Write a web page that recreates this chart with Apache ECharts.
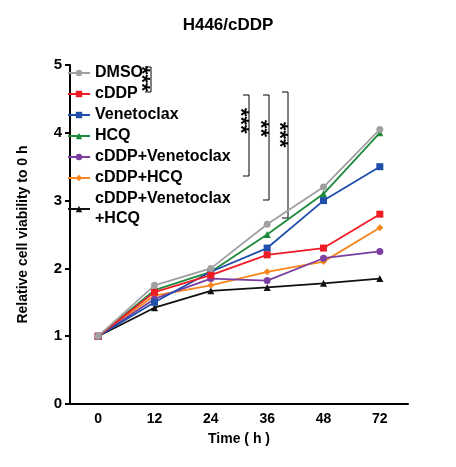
<!DOCTYPE html><html><head><meta charset="utf-8"><script src="https://cdn.jsdelivr.net/npm/echarts@6/dist/echarts.min.js"></script></head><body style="margin:0"><div id="c" style="width:456px;height:467px"></div><script>
const categories=['0','12','24','36','48','72'];
const names=['DMSO','cDDP','Venetoclax','HCQ','cDDP+Venetoclax','cDDP+HCQ','cDDP+Venetoclax\n+HCQ'];
const colors=['#a0a0a0','#ee1c25','#1f4eab','#1d8a3c','#7a3fa0','#f7861c','#111111'];
const symbols=['circle','rect','rect','triangle','circle','diamond','triangle'];
const DMSO=[1,1.75,2.0,2.65,3.2,4.05];
const cDDP=[1,1.65,1.9,2.2,2.3,2.8];
const Venetoclax=[1,1.5,1.95,2.3,3.0,3.5];
const HCQ=[1,1.68,1.95,2.5,3.1,4.0];
const cDDP_Ven=[1,1.55,1.85,1.82,2.15,2.25];
const cDDP_HCQ=[1,1.6,1.75,1.95,2.1,2.6];
const cDDP_Ven_HCQ=[1,1.42,1.67,1.72,1.78,1.85];
const data=[DMSO,cDDP,Venetoclax,HCQ,cDDP_Ven,cDDP_HCQ,cDDP_Ven_HCQ];
const F='Arial, Liberation Sans, sans-serif';
const brackets=[[[145,67],[151,67],[151,92],[145,92]],[[243,95],[249,95],[249,176],[243,176]],[[263,95],[269,95],[269,200],[263,200]],[[282,92],[288,92],[288,218],[282,218]]];
const txt=[[152,66,'***'],[251,108,'***'],[271,120,'**'],[290,122,'***']];
const ch=echarts.init(document.getElementById('c'));
ch.setOption({
 animation:false,
 title:{text:'H446/cDDP',left:'center',top:12,textStyle:{fontFamily:F,fontSize:17,fontWeight:'bold',color:'#000'}},
 grid:{left:70,right:48,top:65,bottom:63},
 legend:{orient:'vertical',left:62,top:58,itemGap:1,itemWidth:22,itemHeight:8,
   textStyle:{fontFamily:F,fontSize:16,fontWeight:'bold',color:'#000',lineHeight:20},
   data:names},
 xAxis:{type:'category',data:categories,boundaryGap:['8%','5%'],
   name:'Time ( h )',nameLocation:'middle',nameGap:28,
   nameTextStyle:{fontFamily:F,fontSize:14,fontWeight:'bold',color:'#000'},
   axisLine:{lineStyle:{color:'#000',width:2}},axisTick:{alignWithLabel:true,lineStyle:{width:2}},
   axisLabel:{fontFamily:F,fontSize:14,fontWeight:'bold',color:'#000'}},
 yAxis:{type:'value',min:0,max:5,interval:1,
   name:'Relative cell viability to 0 h',nameLocation:'middle',nameGap:40,
   nameTextStyle:{fontFamily:F,fontSize:14,fontWeight:'bold',color:'#000'},
   axisLine:{show:true,lineStyle:{color:'#000',width:2}},axisTick:{show:true,lineStyle:{width:2}},
   splitLine:{show:false},
   axisLabel:{fontFamily:F,fontSize:15,fontWeight:'bold',color:'#000'}},
 series:data.map((d,i)=>({name:names[i],type:'line',data:d,color:colors[i],symbol:symbols[i],symbolSize:7,
   lineStyle:{width:1.8},z:10-i})),
 graphic:brackets.map(p=>({type:'polyline',shape:{points:p},style:{stroke:'#000',lineWidth:1,fill:null}}))
  .concat(txt.map(t=>({type:'text',x:t[0],y:t[1],rotation:-Math.PI/2,style:{text:t[2],font:'bold 22px Arial',fill:'#000'}})))
});
</script></body></html>
